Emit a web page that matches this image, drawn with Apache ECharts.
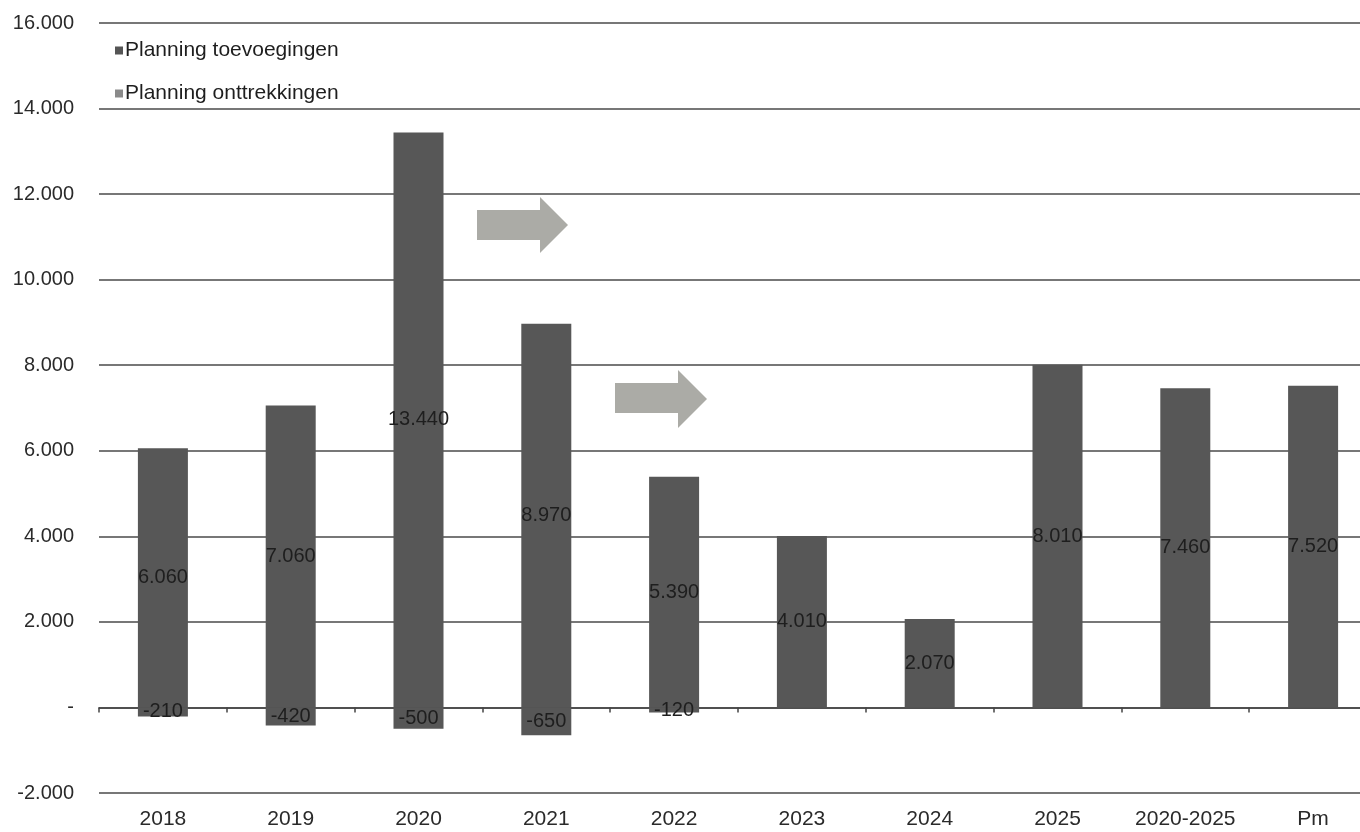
<!DOCTYPE html>
<html>
<head>
<meta charset="utf-8">
<script src="https://cdn.jsdelivr.net/npm/echarts@6/dist/echarts.min.js"></script>
<style>
  html, body { margin: 0; padding: 0; background: #fff; overflow: hidden; width: 1360px; height: 832px; }
  /* the plot area runs a little past the right edge of the window */
  #chart { width: 1400px; height: 832px; }
</style>
</head>
<body>
<div id="chart"></div>
<script>
// Categories and planned values (woningen per jaar)
const categories = ['2018', '2019', '2020', '2021', '2022', '2023', '2024', '2025', '2020-2025', 'Pm'];
const toevoegingen = [6060, 7060, 13440, 8970, 5390, 4010, 2070, 8010, 7460, 7520];
const onttrekkingen = [-210, -420, -500, -650, -120, null, null, null, null, null];
const seriesNames = ['Planning toevoegingen', 'Planning onttrekkingen'];

// Dutch number formatting: thousands separator '.', zero shown as '-'
function nl(v) {
  if (v === 0) return '-';
  const s = Math.abs(v).toString().replace(/\B(?=(\d{3})+(?!\d))/g, '.');
  return (v < 0 ? '-' : '') + s;
}

const FONT = '"Liberation Sans", Arial, sans-serif';
const BAR = '#575757';

const chart = echarts.init(document.getElementById('chart'), null, { renderer: 'canvas' });

const labelStyle = {
  show: true,
  position: 'inside',
  color: '#1e1e1e',
  fontFamily: FONT,
  fontSize: 20,
  formatter: p => (p.value == null ? '' : nl(p.value))
};

// Decorative grey arrows (pixel shapes)
function arrow(x0, bodyTop, bodyBot, headX, headTop, headBot, tipX) {
  const midY = (headTop + headBot) / 2;
  return {
    type: 'polygon',
    z: 10,
    shape: {
      points: [
        [x0, bodyTop], [headX, bodyTop], [headX, headTop], [tipX, midY],
        [headX, headBot], [headX, bodyBot], [x0, bodyBot]
      ]
    },
    style: { fill: '#ababa6' }
  };
}

chart.setOption({
  animation: false,
  backgroundColor: '#fff',
  grid: { left: 99, right: 23, top: 23, bottom: 39, containLabel: false },
  legend: {
    orient: 'vertical',
    left: 110,
    top: 35,
    itemWidth: 8,
    itemHeight: 8,
    itemGap: 22,
    icon: 'rect',
    textStyle: { fontFamily: FONT, fontSize: 21, color: '#1e1e1e', padding: [0, 0, 0, -3] },
    data: [
      { name: seriesNames[0], itemStyle: { color: '#555555' } },
      { name: seriesNames[1], itemStyle: { color: '#8a8a8a' } }
    ]
  },
  xAxis: [
    {
      type: 'category',
      data: categories,
      position: 'bottom',
      axisLine: { show: true, onZero: true, lineStyle: { color: '#444', width: 1.5 } },
      axisTick: { show: true, length: 5, inside: false, lineStyle: { color: '#444', width: 1.5 } },
      axisLabel: { show: false },
      splitLine: { show: false }
    },
    {
      type: 'category',
      data: categories,
      position: 'bottom',
      axisLine: { show: false, onZero: false },
      axisTick: { show: false },
      axisLabel: { show: true, interval: 0, margin: 16, fontFamily: FONT, fontSize: 21, color: '#2a2a2a' },
      splitLine: { show: false }
    }
  ],
  yAxis: {
    type: 'value',
    min: -2000,
    max: 16000,
    interval: 2000,
    axisLine: { show: false },
    axisTick: { show: false },
    axisLabel: {
      margin: 25,
      fontFamily: FONT,
      fontSize: 20,
      color: '#2a2a2a',
      formatter: v => nl(v)
    },
    splitLine: { show: true, lineStyle: { color: '#4a4a4a', width: 1.5 } }
  },
  series: [
    {
      name: seriesNames[0],
      type: 'bar',
      stack: 'planning',
      xAxisIndex: 0,
      barWidth: 50,
      itemStyle: { color: BAR },
      label: labelStyle,
      data: toevoegingen
    },
    {
      name: seriesNames[1],
      type: 'bar',
      stack: 'planning',
      xAxisIndex: 0,
      barWidth: 50,
      itemStyle: { color: BAR },
      label: labelStyle,
      data: onttrekkingen
    }
  ],
  graphic: [
    arrow(477, 210, 240, 540, 197, 253, 568),
    arrow(615, 383, 413, 678, 370, 428, 707)
  ]
});
</script>
</body>
</html>
